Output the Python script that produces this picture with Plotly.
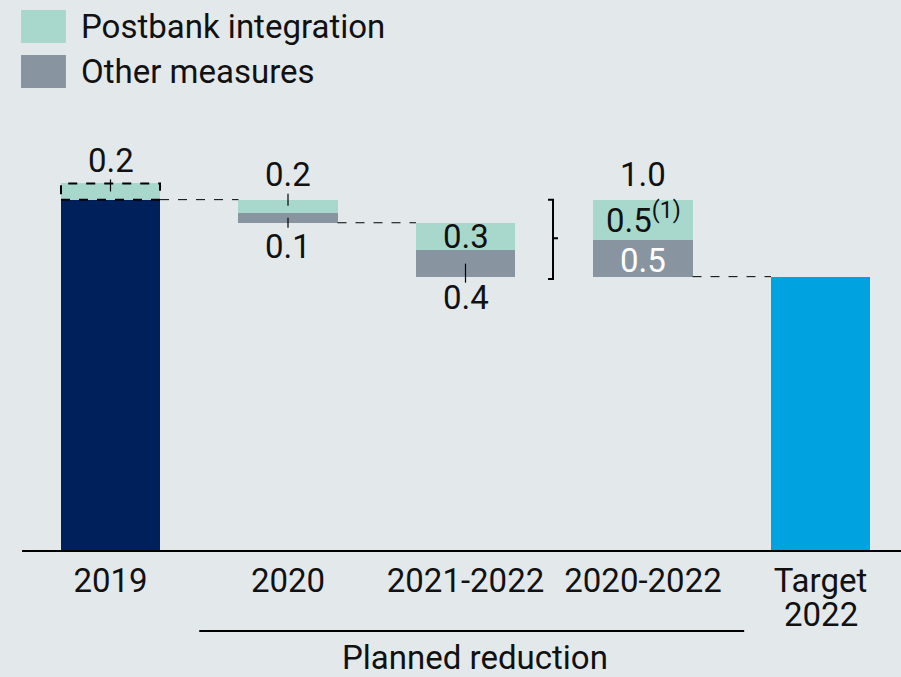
import plotly.graph_objects as go

# ---------------- data ----------------
categories = ["2019", "2020", "2021-2022", "2020-2022", "Target<br>2022"]
start_2019 = 4.55
extra_2019 = 0.21
extra_2019_label = "0.2"
target_2022 = 3.55
step_x = [1, 2, 3]
postbank = [0.17, 0.35, 0.52]
other = [0.13, 0.35, 0.48]
postbank_labels = ["0.2", "0.3", "0.5<sup>(1)</sup>"]
other_labels = ["0.1", "0.4", "0.5"]
total_label = "1.0"
legend_names = ["Postbank integration", "Other measures"]
group_label = "Planned reduction"

# ---------------- styles ----------------
NAVY = "#00205b"
TEAL = "#a8d8cc"
GREY = "#8895a1"
BLUE = "#00a3e0"
BG = "#e3e8eb"
TXT = "#111111"
FONT = "Roboto"
FS = 33
W = 0.558

# waterfall geometry derived from the data
tops = [start_2019, start_2019 - postbank[0] - other[0], start_2019]
pb_base = [tops[i] - postbank[i] for i in range(3)]
ot_base = [pb_base[i] - other[i] for i in range(3)]

fig = go.Figure()
fig.add_bar(x=[0], y=[start_2019], width=W, marker=dict(color=NAVY, line=dict(width=0)),
            showlegend=False, hoverinfo="skip")
fig.add_bar(x=[0], y=[extra_2019], base=[start_2019], width=W,
            marker=dict(color=TEAL, line=dict(width=0)), showlegend=False, hoverinfo="skip")
fig.add_bar(x=step_x, y=postbank, base=pb_base, width=W, name=legend_names[0],
            marker=dict(color=TEAL, line=dict(width=0)), showlegend=False)
fig.add_bar(x=step_x, y=other, base=ot_base, width=W, name=legend_names[1],
            marker=dict(color=GREY, line=dict(width=0)), showlegend=False)
fig.add_bar(x=[4], y=[target_2022], width=W, marker=dict(color=BLUE, line=dict(width=0)),
            showlegend=False, hoverinfo="skip")

shapes = []
# dashed box around 2019 extra
shapes.append(dict(type="rect", xref="x", yref="y", x0=-W / 2, x1=W / 2,
                   y0=start_2019, y1=start_2019 + extra_2019,
                   line=dict(color="black", width=2, dash="dash")))
# connectors
conn = [(0, 1, start_2019), (1, 2, ot_base[0]), (3, 4, target_2022)]
for a, b, yv in conn:
    shapes.append(dict(type="line", xref="x", yref="y", x0=a + W / 2, x1=b - W / 2,
                       y0=yv, y1=yv, line=dict(color="black", width=1, dash="dash")))
# small leader ticks (pixel sized)
def tick(xv, yv, p0, p1):
    shapes.append(dict(type="line", xref="x", yref="y", ysizemode="pixel", yanchor=yv,
                       x0=xv, x1=xv, y0=p0, y1=p1, line=dict(color="black", width=1.2)))
tick(0, start_2019 + extra_2019, -8, 4)
tick(1, tops[0], -6, 6)
tick(1, ot_base[0], -5, 5)
tick(2, ot_base[1], -6, 13)
# bracket
bx, bl, br = 2.493, 2.465, 2.521
ymid = (tops[2] + ot_base[2]) / 2
shapes.append(dict(type="path", xref="x", yref="y",
                   path=f"M {bl},{tops[2]} L {bx},{tops[2]} L {bx},{ot_base[2] - 0.03} L {bl},{ot_base[2] - 0.03} "
                        f"M {bx},{ymid} L {br},{ymid}",
                   line=dict(color="black", width=2)))
# planned reduction underline
shapes.append(dict(type="line", xref="x", yref="paper", x0=0.5, x1=3.57, y0=-0.18, y1=-0.18,
                   line=dict(color="black", width=2)))
# legend swatches
leg_y = [(1.1267, 1.2), (1.0267, 1.1)]
for (y0, y1), col in zip(leg_y, [TEAL, GREY]):
    shapes.append(dict(type="rect", xref="paper", yref="paper", x0=-0.0011, x1=0.05,
                       y0=y0, y1=y1, fillcolor=col, line=dict(width=0)))

ann = []
def lab(xv, yv, text, shift, color=TXT):
    ann.append(dict(x=xv, y=yv, xref="x", yref="y", text=text, showarrow=False,
                    yanchor="middle", xanchor="center", yshift=shift,
                    font=dict(family=FONT, size=FS, color=color)))
lab(0, start_2019 + extra_2019, extra_2019_label, 23)
lab(1, tops[0], postbank_labels[0], 25)
lab(1, ot_base[0], other_labels[0], -24)
lab(2, pb_base[1] + postbank[1] / 2, postbank_labels[1], 0)
lab(2, ot_base[1], other_labels[1], -21)
lab(3, tops[2], total_label, 25)
lab(3, pb_base[2] + postbank[2] / 2, postbank_labels[2], 1)
lab(3, ot_base[2] + other[2] / 2, other_labels[2], -2, "white")
ann.append(dict(x=2.054, y=-0.237, xref="x", yref="paper", text=group_label, showarrow=False,
                yanchor="middle", xanchor="center", height=32,
                font=dict(family=FONT, size=FS, color=TXT)))
for i, name in enumerate(legend_names):
    ann.append(dict(x=0.0648, y=[1.163, 1.063][i], xref="paper", yref="paper", text=name,
                    showarrow=False, xanchor="left", yanchor="middle",
                    font=dict(family=FONT, size=FS, color=TXT)))

# tick labels: the two-line category gets a tighter second line
tick_text = [c.split("<br>")[0] for c in categories]
for i, c in enumerate(categories):
    parts = c.split("<br>")
    if len(parts) > 1:
        ann.append(dict(x=i, y=-0.1422, xref="x", yref="paper", text=parts[1], showarrow=False,
                        xanchor="center", yanchor="middle", height=24,
                        font=dict(family=FONT, size=FS, color=TXT)))

fig.update_layout(
    width=901, height=677, margin=dict(l=22, r=0, t=100, b=127),
    paper_bgcolor=BG, plot_bgcolor=BG, barmode="overlay", bargap=0,
    shapes=shapes, annotations=ann, showlegend=False,
    font=dict(family=FONT, size=FS, color=TXT),
    xaxis=dict(range=[-0.4986, 4.4535], tickvals=[0, 1, 2, 3, 4], ticktext=tick_text,
               showline=True, linecolor="black", linewidth=2, ticks="", showgrid=False,
               zeroline=False, tickfont=dict(family=FONT, size=FS, color=TXT), fixedrange=True),
    yaxis=dict(range=[0, 450 / 77], visible=False, showgrid=False, zeroline=False, fixedrange=True),
)
fig.write_html("out.html", config={"displayModeBar": False},
               post_script="document.body.style.margin='0';document.body.style.overflow='hidden';")
